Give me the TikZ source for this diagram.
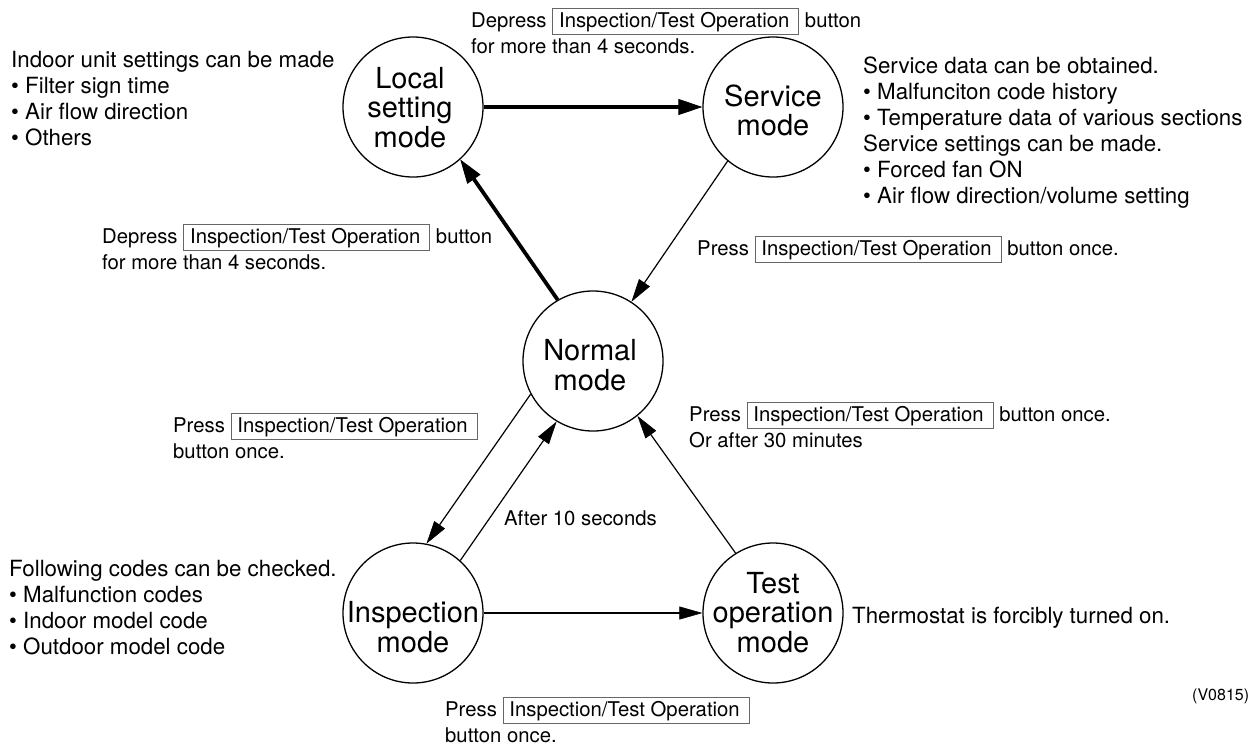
\documentclass[tikz,border=0pt]{standalone}
\usepackage{fontspec}
\setmainfont{TeX Gyre Heros}
\usetikzlibrary{arrows.meta}
\definecolor{framegray}{gray}{0.4}
\newcommand\insbtn{{\setlength{\fboxsep}{3pt}\setlength{\fboxrule}{0.9pt}\fcolorbox{framegray}{white}{\hspace{3pt}\rule[-4pt]{0pt}{19pt}Inspection/Test Operation\hspace{6pt}}}}
\newcommand\llines[1]{\begin{tabular}[t]{@{}l@{}}#1\end{tabular}}
\newcommand\clines[1]{\begin{tabular}[t]{@{}c@{}}#1\end{tabular}}
\tikzset{
  modecirc/.style={circle, draw, line width=1.3pt, minimum size=140pt, inner sep=0pt},
  modetxt/.style={anchor=base, inner sep=0pt, font=\fontsize{29}{29.5}\selectfont},
  desc/.style={anchor=base west, inner sep=0pt, font=\fontsize{22.3}{26.3}\selectfont},
  trans/.style={anchor=base west, inner sep=0pt, font=\fontsize{20.3}{26}\selectfont},
  thinarrow/.style={line width=1.2pt, -{Triangle[length=23pt,width=13pt,line width=0.6pt]}},
  thickarrow/.style={line width=3.8pt, -{Triangle[length=24pt,width=16pt,line width=0.8pt]}},
}
\begin{document}
\begin{tikzpicture}[x=1pt,y=-1pt]
\path[fill=white] (0,0) rectangle (1260,748);
\useasboundingbox (0,0) rectangle (1260,748);

% mode circles
\node[modecirc] (local) at (413,107) {};
\node[modecirc] (service) at (773,107) {};
\node[modecirc] (normal) at (593,361) {};
\node[modecirc] (insp) at (413,613) {};
\node[modecirc] (test) at (773,613) {};

\node[modetxt] (localtxt) at (410,88) {\clines{Local\\setting\\mode}};
\node[modetxt] (servicetxt) at (773,106) {\clines{Service\\mode}};
\node[modetxt] (normaltxt) at (590,360) {\clines{Normal\\mode}};
\node[modetxt] (insptxt) at (413,622) {\clines{Inspection\\mode}};
\node[modetxt] (testtxt) at (773,593) {\clines{Test\\operation\\mode}};

% connectors
\draw[thickarrow] (local) -- (service);
\draw[thickarrow] (normal.120) -- (local.-48);
\draw[thinarrow] (service.230) -- (normal.57);
\draw[thinarrow] (normal.208) -- (insp.79);
\draw[thinarrow] (insp.48) -- (normal.239);
\draw[thinarrow] (insp) -- (test);
\draw[thinarrow] (test.122) -- (normal.-51);

% descriptions
\node[desc] (localdesc) at (11,67) {\llines{Indoor unit settings can be made\\• Filter sign time\\• Air flow direction\\• Others}};
\node[desc, font=\fontsize{22.3}{26}\selectfont] (servdesc) at (863,73) {\llines{Service data can be obtained.\\• Malfunciton code history\\• Temperature data of various sections\\Service settings can be made.\\• Forced fan ON\\• Air flow direction/volume setting}};
\node[desc] (inspdesc) at (9,576) {\llines{Following codes can be checked.\\• Malfunction codes\\• Indoor model code\\• Outdoor model code}};
\node[desc] (testdesc) at (852,623) {Thermostat is forcibly turned on.};

% transition labels
\node[trans] (t1) at (471,27) {\llines{Depress \insbtn{} button\\for more than 4 seconds.}};
\node[trans] (t2) at (102,243) {\llines{Depress \insbtn{} button\\for more than 4 seconds.}};
\node[trans] (t3) at (697,255) {Press \insbtn{} button once.};
\node[trans] (t4) at (173,432) {\llines{Press \insbtn\\button once.}};
\node[trans] (t5) at (689,421) {\llines{Press \insbtn{} button once.\\Or after 30 minutes}};
\node[trans] (t6) at (504,525) {After 10 seconds};
\node[trans] (t7) at (445,716) {\llines{Press \insbtn\\button once.}};
\node[anchor=base west, inner sep=0pt, font=\fontsize{16}{18}\selectfont] (code) at (1192,700) {(V0815)};
\end{tikzpicture}
\end{document}
